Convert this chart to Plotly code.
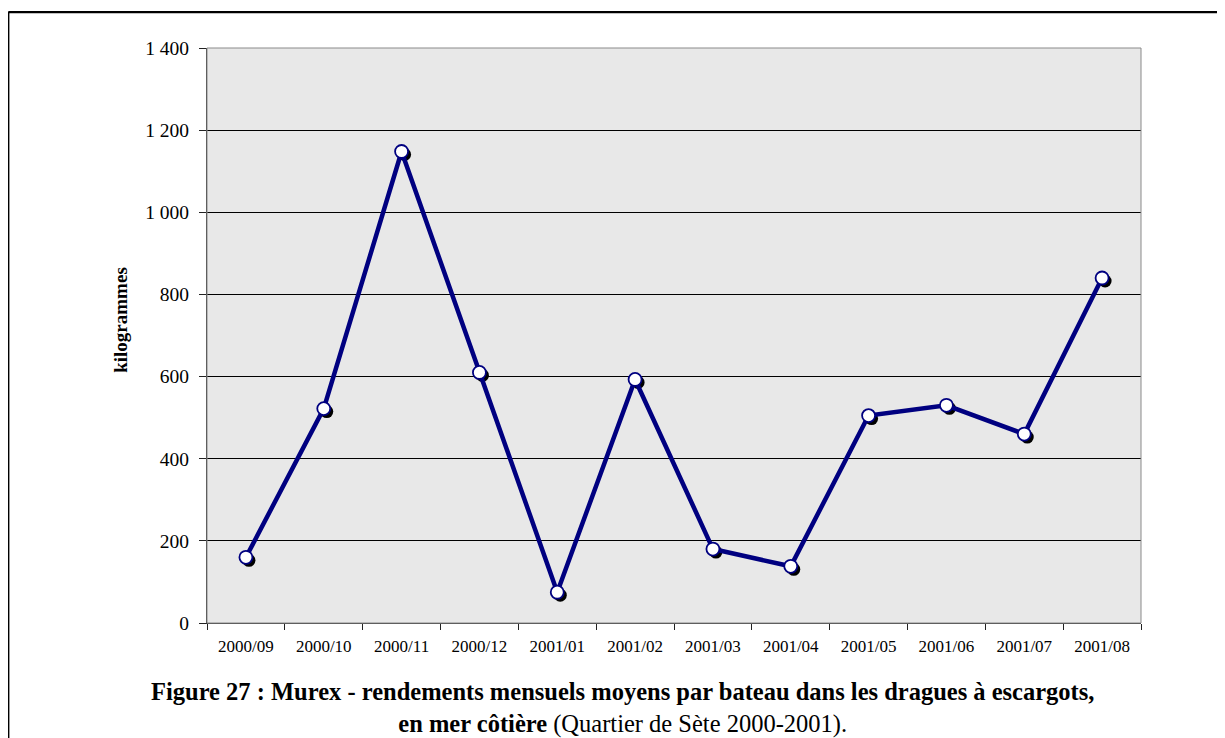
import plotly.graph_objects as go

# ---- data ----
months = ["2000/09", "2000/10", "2000/11", "2000/12", "2001/01", "2001/02",
          "2001/03", "2001/04", "2001/05", "2001/06", "2001/07", "2001/08"]
kg = [160, 522, 1148, 610, 75, 593, 180, 138, 505, 530, 460, 840]
y_tickvals = [0, 200, 400, 600, 800, 1000, 1200, 1400]

caption_line1 = "<b>Figure 27 : Murex - rendements mensuels moyens par bateau dans les dragues à escargots,</b>"
caption_line2 = "<b>en mer côtière</b> (Quartier de Sète 2000-2001)."
y_title = "<b>kilogrammes</b>"

# ---- layout geometry (page pixels; the page body adds an 8px offset) ----
OFF = 8
W, H = 1225 - OFF, 738 - OFF
SH = 3                          # shadow offset in px
PLOT_L, PLOT_R = 207, 1141      # page coords of plot area
PLOT_T, PLOT_B = 48, 623.5

L = PLOT_L - OFF
T = PLOT_T - OFF
R = W - (PLOT_R + SH - OFF)
B = H - (PLOT_B + SH - OFF)
PW = W - L - R
PH = H - T - B


def px(x):
    """page x pixel -> paper fraction"""
    return (x - OFF - L) / PW


def py(y):
    """page y pixel -> paper fraction"""
    return (H - B - (y - OFF)) / PH


SERIF = "Liberation Serif, Times New Roman, serif"
NAVY = "#000080"

fig = go.Figure()

# shadow markers (on an offset, invisible subplot)
fig.add_trace(go.Scatter(
    x=months, y=kg, xaxis="x", yaxis="y", mode="markers",
    marker=dict(size=13, color="black", line=dict(width=0)),
    hoverinfo="skip", showlegend=False))

# main series
fig.add_trace(go.Scatter(
    x=months, y=kg, xaxis="x2", yaxis="y2", mode="lines+markers",
    line=dict(color=NAVY, width=4.5),
    marker=dict(size=13, color="white", line=dict(color=NAVY, width=1.8)),
    showlegend=False))

axis_common_hidden = dict(showgrid=False, zeroline=False, showline=False,
                          showticklabels=False, ticks="")

fig.update_layout(
    width=W, height=H,
    margin=dict(l=L, r=R, t=T, b=B, pad=0),
    paper_bgcolor="white",
    plot_bgcolor="rgba(0,0,0,0)",
    separators=", ",
    font=dict(family=SERIF, color="black"),
    showlegend=False,
    xaxis=dict(domain=[SH / PW, 1], anchor="y", type="category",
               categoryorder="array", categoryarray=months,
               range=[-0.5, len(months) - 0.5], **axis_common_hidden),
    yaxis=dict(domain=[0, 1 - SH / PH], anchor="x", range=[0, 1400],
               **axis_common_hidden),
    xaxis2=dict(domain=[0, 1 - SH / PW], anchor="y2", type="category",
                categoryorder="array", categoryarray=months,
                range=[-0.5, len(months) - 0.5],
                tickson="boundaries", ticks="outside", ticklen=6,
                tickcolor="#222222", tickwidth=1, ticklabelstandoff=8,
                showgrid=False, zeroline=False,
                showline=True, linecolor="#333333", linewidth=1,
                tickfont=dict(family=SERIF, size=17, color="black")),
    yaxis2=dict(domain=[SH / PH, 1], anchor="x2", range=[0, 1400],
                tickvals=y_tickvals, tickformat=",d",
                ticks="outside", ticklen=7, tickcolor="#222222", tickwidth=1,
                ticklabelstandoff=6,
                showgrid=True, gridcolor="black", gridwidth=1,
                zeroline=False,
                showline=True, linecolor="#333333", linewidth=1,
                tickfont=dict(family=SERIF, size=19.5, color="black")),
)

# plot area background and thin grey frame
fig.add_shape(type="rect", xref="paper", yref="paper", layer="below",
              x0=0, x1=1 - SH / PW, y0=SH / PH, y1=1,
              fillcolor="#e8e8e8", line=dict(width=0))
fig.add_shape(type="rect", xref="paper", yref="paper", layer="above",
              x0=0, x1=1 - SH / PW, y0=SH / PH, y1=1,
              fillcolor="rgba(0,0,0,0)", line=dict(color="#8a8a8a", width=1))

# outer document frame (top and left edges visible)
fig.add_shape(type="line", xref="paper", yref="paper", layer="above",
              x0=px(8.3), x1=px(1260), y0=py(12), y1=py(12),
              line=dict(color="black", width=2.2))
fig.add_shape(type="line", xref="paper", yref="paper", layer="above",
              x0=px(8.3), x1=px(8.3), y0=py(12), y1=py(780),
              line=dict(color="black", width=2.2))

# y-axis title
fig.add_annotation(text=y_title, xref="paper", yref="paper",
                   x=px(121), y=py(320), showarrow=False, textangle=-90,
                   font=dict(family=SERIF, size=19, color="black"),
                   xanchor="center", yanchor="middle")

# caption (two lines in one text block)
fig.add_annotation(text=caption_line1 + "<br>" + caption_line2,
                   xref="paper", yref="paper",
                   x=px(622), y=py(709), showarrow=False, align="center",
                   font=dict(family=SERIF, size=24.5, color="black"),
                   xanchor="center", yanchor="middle")

fig.write_html("out.html")
